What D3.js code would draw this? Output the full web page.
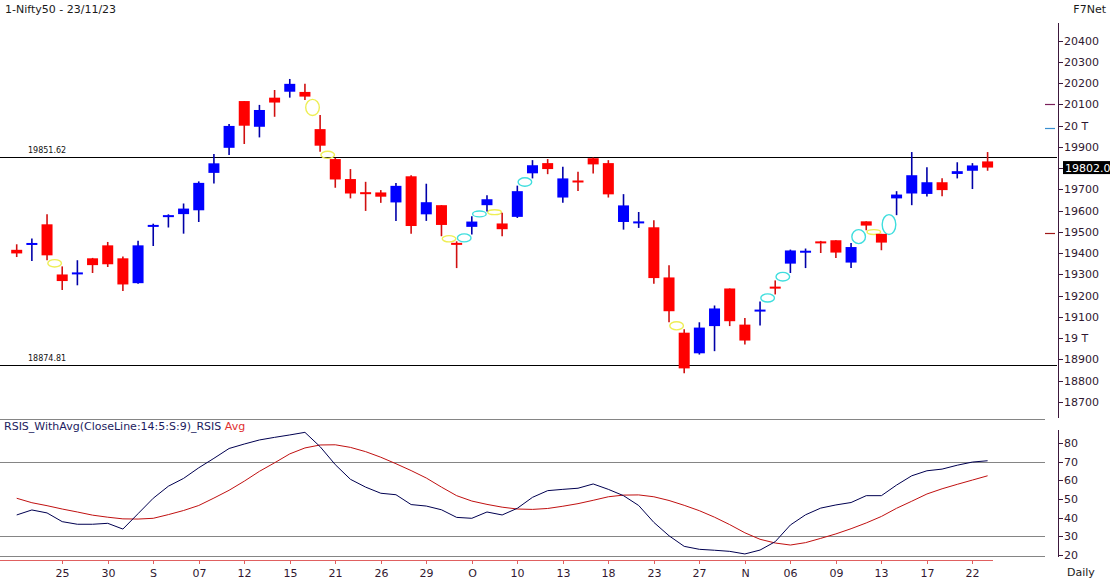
<!DOCTYPE html>
<html><head><meta charset="utf-8">
<script src="https://cdn.jsdelivr.net/npm/d3@7"></script>
<style>
html,body{margin:0;padding:0;background:#fff;}
svg{display:block;font-family:"DejaVu Sans",Verdana,sans-serif;}
</style></head><body>
<svg id="c" width="1110" height="581"></svg>
<script>
// ---------- DATA ----------
const dates = ["2023-08-22","2023-08-23","2023-08-24","2023-08-25","2023-08-28","2023-08-29","2023-08-30","2023-08-31","2023-09-01",
"2023-09-04","2023-09-05","2023-09-06","2023-09-07","2023-09-08","2023-09-11","2023-09-12","2023-09-13","2023-09-14","2023-09-15",
"2023-09-18","2023-09-20","2023-09-21","2023-09-22","2023-09-25","2023-09-26","2023-09-27","2023-09-28","2023-09-29",
"2023-10-03","2023-10-04","2023-10-05","2023-10-06","2023-10-09","2023-10-10","2023-10-11","2023-10-12","2023-10-13",
"2023-10-16","2023-10-17","2023-10-18","2023-10-19","2023-10-20","2023-10-23","2023-10-25","2023-10-26","2023-10-27",
"2023-10-30","2023-10-31","2023-11-01","2023-11-02","2023-11-03","2023-11-06","2023-11-07","2023-11-08","2023-11-09",
"2023-11-10","2023-11-12","2023-11-13","2023-11-15","2023-11-16","2023-11-17","2023-11-20","2023-11-21","2023-11-22","2023-11-23"];
const open  = [19415,19440,19535,19299,19302,19375,19436,19375,19258,19525,19570,19583,19601,19777,19895,20115,19994,20131,20159,
20158,19983,19842,19748,19683,19685,19638,19761,19582,19625,19446,19523,19625,19539,19570,19775,19823,19661,19738,19846,19823,
19546,19542,19521,19285,19025,18928,19056,19233,19063,19125,19241,19350,19404,19452,19460,19355,19549,19490,19657,19680,19678,
19733,19772,19787,19831];
const high  = [19441,19468,19582,19337,19366,19377,19452,19384,19458,19538,19582,19633,19737,19866,20007,20115,20097,20167,20219,
20196,20050,19848,19795,19735,19696,19730,19766,19726,19625,19455,19573,19672,19589,19717,19837,19842,19806,19782,19849,19837,
19677,19593,19554,19342,19041,19074,19153,19233,19094,19172,19271,19416,19421,19457,19460,19447,19549,19490,19691,19875,19804,
19752,19827,19823,19875];
const low   = [19381,19362,19366,19226,19248,19306,19334,19221,19255,19433,19520,19491,19546,19727,19861,19913,19944,20041,20131,
20120,19876,19707,19657,19598,19636,19551,19491,19551,19479,19329,19487,19595,19479,19565,19751,19771,19636,19692,19774,19661,
19510,19518,19255,19074,18834,18922,18938,19056,18969,19059,19205,19306,19329,19400,19376,19329,19507,19413,19578,19625,19666,
19667,19751,19701,19787];
const close = [19398,19445,19389,19268,19306,19343,19347,19252,19436,19530,19577,19609,19730,19822,19998,19999,20073,20108,20196,
20136,19905,19746,19680,19680,19665,19716,19527,19639,19532,19440,19548,19653,19512,19691,19813,19795,19751,19735,19817,19676,
19624,19546,19282,19126,18857,19049,19139,19079,18988,19133,19233,19412,19408,19448,19402,19428,19529,19449,19675,19766,19733,
19696,19785,19812,19802];
const rsi    = [41.4,44.1,42.5,37.8,36.4,36.4,36.9,33.8,42.1,50.4,56.9,61.1,66.8,71.9,77.2,79.6,81.8,83.2,84.5,85.9,78.2,68.5,60.6,56.4,
53.1,52.3,47.0,46.2,44.2,40.1,39.6,43.0,41.4,45.0,50.9,54.5,55.2,55.8,58.1,55.2,51.8,46.5,37.4,30.2,24.5,22.9,22.4,21.8,20.4,
22.5,27.0,36.0,41.5,45.1,46.8,48.1,51.8,51.8,57.5,62.5,65.2,66.1,68.2,69.9,70.6];
const rsiAvg = [50.4,48.0,46.4,44.6,43.0,41.3,40.2,39.3,39.2,39.6,41.6,43.8,46.5,50.5,54.7,59.6,64.9,69.5,74.3,77.5,79.1,79.2,77.8,75.5,
72.5,69.0,65.3,61.3,56.4,51.8,48.9,47.1,45.6,44.6,44.4,44.9,46.1,47.5,49.3,51.2,52.1,52.2,51.2,49.2,46.6,43.7,40.2,36.2,31.8,
28.3,26.3,25.2,26.5,28.8,31.2,34.0,37.1,40.6,45.0,48.8,52.7,55.5,57.9,60.2,62.5];
const xTickIdx    = [3,6,9,12,15,18,21,24,27,30,33,36,39,42,45,48,51,54,57,60,63];
const xTickLabels = ["25","30","S","07","12","15","21","26","29","O","10","13","18","23","27","N","06","09","13","17","22"];
const priceTicks      = [20400,20300,20200,20100,20000,19900,19700,19600,19500,19400,19300,19200,19100,19000,18900,18800,18700];
const priceTickLabels = ["20400","20300","20200","20100","20 T","19900","19700","19600","19500","19400","19300","19200","19100","19 T","18900","18800","18700"];
const refLevels = [19851.62, 18874.81];
const rsiTicks  = [20,30,40,50,60,70,80];
const rsiLevels = [70,30];
const lastPrice = 19802.0;
const sideMarkValues = [20100, 19987, 19496];
const sideMarkColors = ["#7a1f5a","#3a8fd0","#a01818"];
const title = "1-Nifty50 - 23/11/23";
const rsiTitle = "RSIS_WithAvg(CloseLine:14:5:S:9)_RSIS";

// ---------- CHART ----------
const svg = d3.select("#c");
const idx = d3.range(dates.length);
const x = d3.scaleLinear().domain([0, dates.length - 1]).range([16.7, 987.6]);
const y = d3.scaleLinear().domain([18800, 20400]).range([380.5, 40.5]);
const yr = d3.scaleLinear().domain([20, 80]).range([554.7, 443.3]);
const axisCol = "#3c183c", txtCol = "#301830";

// titles
svg.append("text").attr("x",5).attr("y",12.5).attr("font-size",11).attr("fill","#1a1a1a").text(title);
svg.append("text").attr("x",1106).attr("y",13).attr("text-anchor","end").attr("font-size",11).attr("fill","#1a1a1a").text("F7Net");

// reference levels
refLevels.forEach(v=>{
  svg.append("line").attr("x1",0).attr("x2",1057).attr("y1",Math.round(y(v))+0.5).attr("y2",Math.round(y(v))+0.5)
    .attr("stroke","#000").attr("stroke-width",1);
  svg.append("text").attr("x",28).attr("y",Math.round(y(v))-4).attr("font-size",8).attr("fill","#111").text(v.toFixed(2));
});

// gap markers (derived from OHLC)
const gaps = [];
for (let i=1;i<idx.length;i++){
  if (low[i] > high[i-1]) gaps.push({i, lo:high[i-1], hi:low[i], c:"#3fdede"});
  else if (high[i] < low[i-1]) gaps.push({i, lo:high[i], hi:low[i-1], c:"#eeee55"});
}
svg.append("g").selectAll("ellipse").data(gaps).join("ellipse")
  .attr("cx", d=>(x(d.i-1)+x(d.i))/2)
  .attr("cy", d=>(y(d.lo)+y(d.hi))/2)
  .attr("rx", 6.8)
  .attr("ry", d=>Math.max((y(d.lo)-y(d.hi))/2, 1.8)+0.6)
  .attr("fill","none").attr("stroke", d=>d.c).attr("stroke-width",1.4);

// candles
const up = i => close[i] >= open[i];
const cg = svg.append("g");
cg.selectAll("line").data(idx).join("line")
  .attr("x1", i=>x(i)).attr("x2", i=>x(i))
  .attr("y1", i=>y(high[i])).attr("y2", i=>y(low[i]))
  .attr("stroke", i=>up(i)?"#0000a8":"#d01010").attr("stroke-width",1.6);
cg.selectAll("rect").data(idx).join("rect")
  .attr("x", i=>x(i)-5.5).attr("width",11)
  .attr("y", i=>{const t=y(Math.max(open[i],close[i])), b=y(Math.min(open[i],close[i])); return b-t<2 ? (t+b)/2-1 : t;})
  .attr("height", i=>Math.max(y(Math.min(open[i],close[i]))-y(Math.max(open[i],close[i])),2))
  .attr("fill", i=>up(i)?"#0000ff":"#ff0000");

// price axis
const ay = svg.append("g").attr("transform","translate(1058,0)");
ay.append("line").attr("x1",0.5).attr("x2",0.5).attr("y1",23).attr("y2",418).attr("stroke",axisCol);
const pt = ay.selectAll("g").data(priceTicks).join("g").attr("transform", d=>`translate(0,${Math.round(y(d))+0.5})`);
pt.append("line").attr("x1",0.5).attr("x2",5).attr("stroke",axisCol);
pt.append("text").attr("x",6).attr("dy","0.35em").attr("font-size",11).attr("fill",txtCol).text((d,i)=>priceTickLabels[i]);
// side marks
svg.append("g").selectAll("line").data(sideMarkValues).join("line")
  .attr("x1",1045).attr("x2",1055).attr("y1",d=>Math.round(y(d))+0.5).attr("y2",d=>Math.round(y(d))+0.5)
  .attr("stroke",(d,i)=>sideMarkColors[i]).attr("stroke-width",1.2);
// last price label
const ly = y(lastPrice);
svg.append("line").attr("x1",1058).attr("x2",1063).attr("y1",Math.round(ly)+0.5).attr("y2",Math.round(ly)+0.5).attr("stroke",axisCol);
svg.append("rect").attr("x",1063).attr("y",ly-6.5).attr("width",50).attr("height",13).attr("fill","#000");
svg.append("text").attr("x",1065).attr("y",ly).attr("dy","0.36em").attr("font-size",11).attr("fill","#fff").text(lastPrice.toFixed(1));

// panel separators / RSI grid
const gridCol = "#858585";
[419.5, 556.5].forEach(v=>svg.append("line").attr("x1",0).attr("x2",1045).attr("y1",v).attr("y2",v).attr("stroke",gridCol));
svg.append("g").selectAll("line").data(rsiLevels).join("line")
  .attr("x1",0).attr("x2",1045).attr("y1",d=>Math.round(yr(d))+0.5).attr("y2",d=>Math.round(yr(d))+0.5).attr("stroke",gridCol);

// RSI title
const rt = svg.append("text").attr("x",4).attr("y",430).attr("font-size",11);
rt.append("tspan").attr("fill","#1c1c60").text(rsiTitle);
rt.append("tspan").attr("fill","#e03030").text(" Avg");

// RSI lines
const line = d3.line().x((d,i)=>x(i)).y(d=>yr(d));
svg.append("path").datum(rsiAvg).attr("d",line).attr("fill","none").attr("stroke","#c01010").attr("stroke-width",1);
svg.append("path").datum(rsi).attr("d",line).attr("fill","none").attr("stroke","#000050").attr("stroke-width",1);

// RSI axis
const ar = svg.append("g").attr("transform","translate(1058,0)");
ar.append("line").attr("x1",0.5).attr("x2",0.5).attr("y1",430).attr("y2",557).attr("stroke",axisCol);
const rtk = ar.selectAll("g").data(rsiTicks).join("g").attr("transform", d=>`translate(0,${Math.round(yr(d))+0.5})`);
rtk.append("line").attr("x1",0.5).attr("x2",5).attr("stroke",axisCol);
rtk.append("text").attr("x",6).attr("dy","0.35em").attr("font-size",11).attr("fill",txtCol).text(d=>d);

// X axis
const xCol = "#e06060";
svg.append("line").attr("x1",0).attr("x2",993).attr("y1",560.5).attr("y2",560.5).attr("stroke",xCol);
const xt = svg.append("g").selectAll("g").data(xTickIdx).join("g").attr("transform", d=>`translate(${Math.round(x(d))+0.5},0)`);
xt.append("line").attr("y1",560).attr("y2",564).attr("stroke",xCol);
xt.append("text").attr("y",577).attr("text-anchor","middle").attr("font-size",11).attr("fill",txtCol).text((d,i)=>xTickLabels[i]);
svg.append("text").attr("x",1067).attr("y",576).attr("font-size",11).attr("fill","#1a1a1a").text("Daily");
</script>
</body></html>
